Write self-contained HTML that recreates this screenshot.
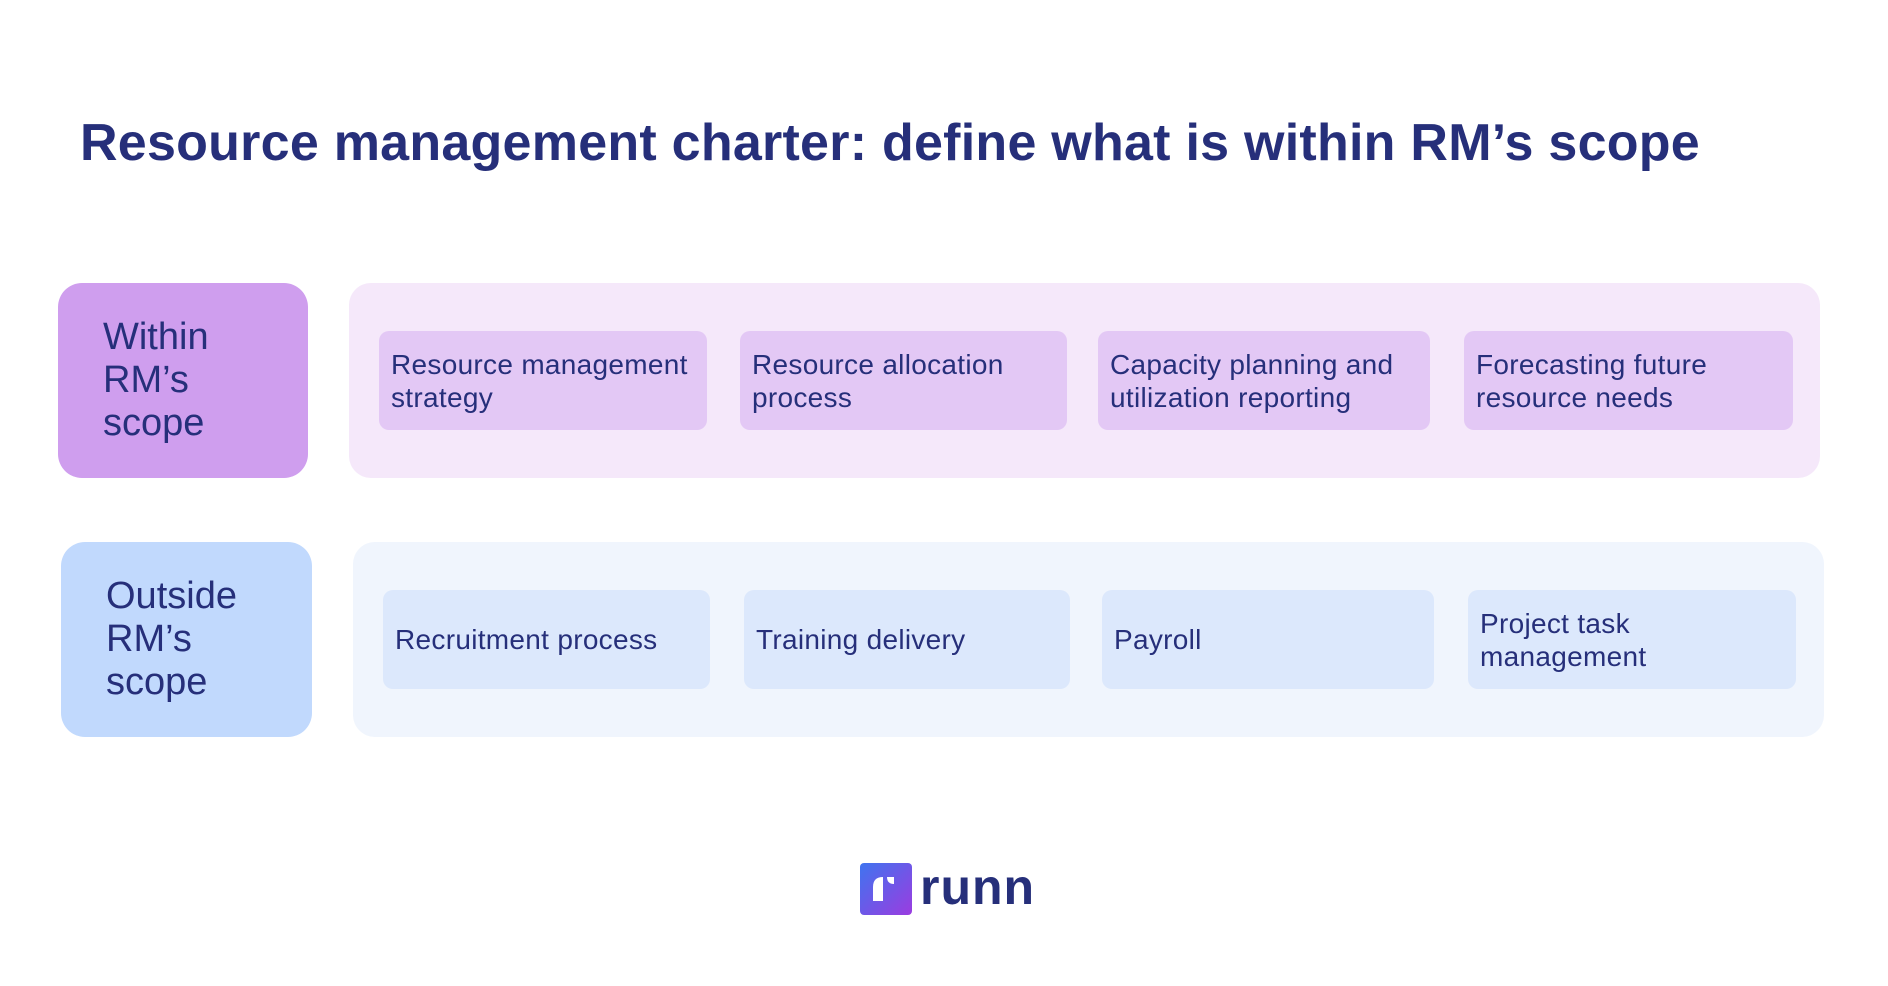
<!DOCTYPE html>
<html><head><meta charset="utf-8"><style>
body{margin:0;width:1888px;height:986px;background:#fff;position:relative;overflow:hidden;font-family:"Liberation Sans",sans-serif;color:#262f7a}
.a{position:absolute;box-sizing:border-box}
h1{position:absolute;left:80px;top:113px;margin:0;font-size:52px;font-weight:bold;white-space:nowrap;letter-spacing:0.25px}
.lab{border-radius:24px;padding-left:45px;font-size:38px;line-height:43px;display:flex;align-items:center}
.con{border-radius:22px}
.card{border-radius:10px;padding-left:12px;font-size:28px;line-height:33px;display:flex;align-items:center;letter-spacing:0.3px;white-space:nowrap}
.p .card{background:#e3c8f5}
.b .card{background:#dce8fc}
</style></head><body>
<h1>Resource management charter: define what is within RM’s scope</h1>
<div class="a lab" style="left:58px;top:283px;width:250px;height:195px;background:#cf9eee">Within<br>RM’s<br>scope</div>
<div class="a lab" style="left:61px;top:542px;width:251px;height:195px;background:#c1d9fd">Outside<br>RM’s<br>scope</div>
<div class="a con" style="left:349px;top:283px;width:1471px;height:195px;background:#f5e8fa"></div>
<div class="a con" style="left:353px;top:542px;width:1471px;height:195px;background:#f0f5fd"></div>
<div class="p">
<div class="a card" style="left:379px;top:331px;width:328px;height:99px">Resource management<br>strategy</div>
<div class="a card" style="left:740px;top:331px;width:327px;height:99px">Resource allocation<br>process</div>
<div class="a card" style="left:1098px;top:331px;width:332px;height:99px">Capacity planning and<br>utilization reporting</div>
<div class="a card" style="left:1464px;top:331px;width:329px;height:99px">Forecasting future<br>resource needs</div>
</div>
<div class="b">
<div class="a card" style="left:383px;top:590px;width:327px;height:99px">Recruitment process</div>
<div class="a card" style="left:744px;top:590px;width:326px;height:99px">Training delivery</div>
<div class="a card" style="left:1102px;top:590px;width:332px;height:99px">Payroll</div>
<div class="a card" style="left:1468px;top:590px;width:328px;height:99px">Project task<br>management</div>
</div>
<svg class="a" style="left:860px;top:863px" width="52" height="52" viewBox="0 0 52 52">
<defs><linearGradient id="g" x1="0" y1="0" x2="1" y2="1"><stop offset="0" stop-color="#3f74ef"/><stop offset="1" stop-color="#9b3ce0"/></linearGradient></defs>
<rect width="52" height="52" rx="4" fill="url(#g)"/>
<path d="M13 38 V24 Q13 14 23 14 V38 Z" fill="#fff"/>
<path d="M27 14 H34 V21 Q27 21 27 14 Z" fill="#fff"/>
</svg>
<div class="a" style="left:920px;top:858px;font-size:50px;font-weight:bold;line-height:58px;letter-spacing:1px">runn</div>
</body></html>
